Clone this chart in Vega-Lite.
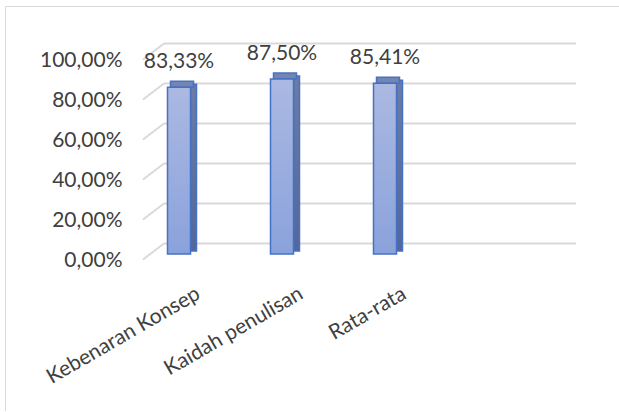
{
  "$schema": "https://vega.github.io/schema/vega-lite/v6.json",
  "width": 616,
  "height": 405,
  "padding": {"left": 5, "top": 6, "right": 0, "bottom": 0},
  "autosize": {"type": "none"},
  "datasets": {
    "skor": [
      {"aspek": "Kebenaran Konsep", "nilai": 0.8333},
      {"aspek": "Kaidah penulisan", "nilai": 0.875},
      {"aspek": "Rata-rata", "nilai": 0.8541}
    ],
    "skala": [
      {"v": 0}, {"v": 0.2}, {"v": 0.4}, {"v": 0.6}, {"v": 0.8}, {"v": 1}
    ]
  },
  "encoding": {
    "x": {
      "field": "aspek",
      "type": "nominal",
      "sort": null,
      "axis": null,
      "scale": {
        "domain": ["Kebenaran Konsep", "Kaidah penulisan", "Rata-rata"],
        "range": [159, 571],
        "paddingInner": 0,
        "paddingOuter": 0.5,
        "align": 0
      }
    },
    "y": {
      "field": "nilai",
      "type": "quantitative",
      "title": null,
      "scale": {"domain": [0, 1], "range": [248, 48], "nice": false, "zero": true},
      "axis": {
        "grid": false, "domain": false, "ticks": false,
        "offset": -117, "labelPadding": 0, "labelOffset": 6,
        "labelFont": "Lato", "labelFontSize": 21, "labelColor": "#404040",
        "values": [0, 0.2, 0.4, 0.6, 0.8, 1], "format": ".2%"
      }
    }
  },
  "layer": [
    {
      "data": {"name": "skala"},
      "mark": {"type": "rule", "color": "#d9d9d9", "strokeWidth": 2, "xOffset": -51.5, "x2Offset": 154.5, "yOffset": -10.5, "y2Offset": -10.5},
      "encoding": {
        "x": {"datum": "Kebenaran Konsep", "type": "nominal"},
        "x2": {"datum": "Rata-rata"},
        "y": {"field": "v", "type": "quantitative", "title": null},
        "y2": {"field": "v"}
      }
    },
    {
      "data": {"name": "skala"},
      "mark": {"type": "rule", "color": "#d9d9d9", "strokeWidth": 2, "xOffset": -72.5, "x2Offset": -51.5, "yOffset": 5.5, "y2Offset": -10.5},
      "encoding": {
        "x": {"datum": "Kebenaran Konsep", "type": "nominal"},
        "x2": {"datum": "Kebenaran Konsep"},
        "y": {"field": "v", "type": "quantitative", "title": null},
        "y2": {"field": "v"}
      }
    },
    {
      "data": {"name": "skor"},
      "mark": {
        "type": "bar", "width": 6, "xOffset": -22, "yOffset": -3, "y2Offset": -3,
        "stroke": "#4472c4", "strokeWidth": 1.5,
        "fill": {"x1": 0, "y1": 0, "x2": 0, "y2": 1, "gradient": "linear",
          "stops": [{"offset": 0, "color": "#6c7ca6"}, {"offset": 1, "color": "#55679a"}]}
      },
      "encoding": {"y2": {"datum": 0}}
    },
    {
      "data": {"name": "skor"},
      "mark": {"type": "bar", "width": 23, "xOffset": -33.5, "yOffset": -6, "stroke": "#4472c4", "strokeWidth": 1.5, "fill": "#7485b0"},
      "encoding": {"y2": {"field": "nilai"}}
    },
    {
      "data": {"name": "skor"},
      "mark": {
        "type": "bar", "width": 23, "xOffset": -36.5,
        "stroke": "#4472c4", "strokeWidth": 1.5,
        "fill": {"x1": 0, "y1": 0, "x2": 0, "y2": 1, "gradient": "linear",
          "stops": [{"offset": 0, "color": "#abb9e2"}, {"offset": 1, "color": "#8aa2db"}]}
      },
      "encoding": {"y2": {"datum": 0}}
    },
    {
      "data": {"name": "skor"},
      "mark": {"type": "text", "xOffset": -36.5, "yOffset": -25, "baseline": "middle", "align": "center", "font": "Lato", "fontSize": 21, "color": "#404040"},
      "encoding": {"text": {"field": "nilai", "type": "quantitative", "format": ".2%"}}
    },
    {
      "data": {"name": "skor"},
      "mark": {"type": "text", "xOffset": -22.5, "yOffset": 29, "angle": -30, "baseline": "top", "align": "right", "font": "Lato", "fontSize": 21, "color": "#404040"},
      "encoding": {"y": {"datum": 0, "type": "quantitative"}, "text": {"field": "aspek"}}
    }
  ],
  "config": {
    "locale": {"number": {"decimal": ",", "thousands": ".", "grouping": [3], "currency": ["", " €"]}},
    "view": {"stroke": "#d9d9d9", "strokeWidth": 1}
  }
}
